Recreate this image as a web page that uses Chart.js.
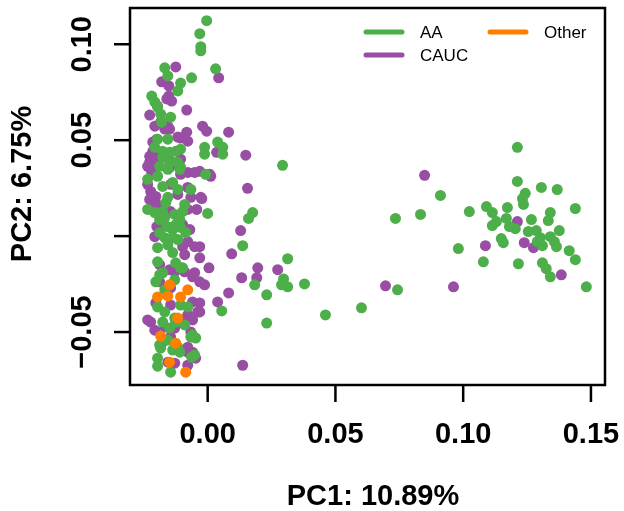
<!DOCTYPE html>
<html>
<head>
<meta charset="utf-8">
<script src="https://cdn.jsdelivr.net/npm/chart.js@4.4.1/dist/chart.umd.min.js"></script>
<style>
  html, body { margin: 0; padding: 0; background: #fff; }
  canvas { display: block; }
</style>
</head>
<body>
<canvas id="pca" width="624" height="511"></canvas>
<script>
// axis ticks and titles
const xTicks = [0, 0.05, 0.10, 0.15];
const xTickLabels = ['0.00', '0.05', '0.10', '0.15'];
const yTicks = [-0.05, 0, 0.05, 0.10];
const yTickLabels = ['\u22120.05', '', '0.05', '0.10'];   // R dropped the 0.00 label
const xTitle = 'PC1: 10.89%';
const yTitle = 'PC2: 6.75%';

const groupNames = ['AA', 'CAUC', 'Other'];
const groupColors = ['#4DAF4A', '#984EA3', '#FF7F00'];

// PC1, PC2 per sample
const aaPoints = [
  [-0.0004, 0.1123], [-0.0031, 0.1055], [-0.0027, 0.0987], [-0.0027, 0.0966], [-0.0168, 0.0877],
  [-0.0156, 0.0835], [0.0031, 0.0872], [-0.0063, 0.0825], [-0.0106, 0.0798], [-0.0117, 0.0757],
  [-0.0219, 0.0730], [-0.0207, 0.0699], [-0.0196, 0.0673], [-0.0184, 0.0636], [-0.0145, 0.0620],
  [-0.0180, 0.0594], [0.0039, 0.0490], [0.0059, 0.0463], [-0.0012, 0.0463], [0.0059, 0.0427],
  [-0.0012, 0.0427], [-0.0156, 0.0505], [-0.0196, 0.0505], [-0.0207, 0.0463], [-0.0176, 0.0442],
  [-0.0149, 0.0437], [-0.0125, 0.0442], [-0.0106, 0.0453], [-0.0117, 0.0385], [-0.0176, 0.0411],
  [-0.0188, 0.0364], [-0.0149, 0.0385], [-0.0109, 0.0348], [-0.0008, 0.0322], [-0.0235, 0.0296],
  [-0.0196, 0.0312], [-0.0156, 0.0348], [-0.0106, 0.0359], [-0.0176, 0.0259], [-0.0117, 0.0243],
  [-0.0066, 0.0243], [-0.0137, 0.0280], [-0.0156, 0.0202], [-0.0164, 0.0175], [-0.0176, 0.0128],
  [-0.0235, 0.0139], [-0.0168, 0.0097], [-0.0129, 0.0113], [-0.0098, 0.0128], [-0.0090, 0.0165],
  [0.0000, 0.0118], [-0.0207, 0.0123], [-0.0109, 0.0086], [-0.0188, 0.0086], [-0.0160, 0.0050],
  [-0.0188, 0.0018], [-0.0137, 0.0034], [-0.0168, -0.0008], [-0.0137, -0.0008], [-0.0086, 0.0018],
  [-0.0117, -0.0018], [-0.0156, -0.0045], [-0.0196, -0.0060], [-0.0137, -0.0086], [-0.0196, -0.0134],
  [-0.0125, -0.0139], [-0.0098, -0.0165], [-0.0176, -0.0191], [-0.0188, -0.0202], [-0.0106, -0.0165],
  [-0.0129, -0.0228], [-0.0203, -0.0238], [-0.0168, -0.0280], [-0.0196, -0.0369], [-0.0168, -0.0395],
  [-0.0106, -0.0359], [-0.0078, -0.0369], [-0.0129, -0.0427], [-0.0176, -0.0448], [-0.0090, -0.0463],
  [-0.0149, -0.0479], [-0.0059, -0.0516], [-0.0188, -0.0568], [-0.0137, -0.0594], [-0.0109, -0.0605],
  [-0.0196, -0.0636], [-0.0145, -0.0709], [-0.0196, -0.0678], [-0.0063, -0.0631], [-0.0047, -0.0531],
  [-0.0156, -0.0542], [-0.0145, 0.0045], [-0.0125, 0.0060], [-0.0106, 0.0045], [-0.0184, -0.0584],
  [-0.0117, -0.0579], [-0.0051, -0.0620], [-0.0066, -0.0526], [-0.0125, -0.0448],
  [0.0293, 0.0369], [0.0176, 0.0123], [0.0160, 0.0092], [0.0137, -0.0050], [0.0313, -0.0118],
  [0.0297, -0.0223], [0.0184, -0.0254], [0.0289, -0.0254], [0.0313, -0.0264], [0.0379, -0.0249],
  [0.0231, -0.0306], [0.0055, -0.0390], [0.0461, -0.0411], [0.0602, -0.0374], [0.0231, -0.0453],
  [0.0743, -0.0280],
  [0.1212, 0.0463], [0.1212, 0.0285], [0.1306, 0.0254], [0.1368, 0.0243], [0.0911, 0.0212],
  [0.1243, 0.0223], [0.1232, 0.0196], [0.1236, 0.0165], [0.1091, 0.0154], [0.1024, 0.0128],
  [0.1173, 0.0149], [0.1114, 0.0123], [0.1439, 0.0144], [0.1341, 0.0123], [0.0833, 0.0113],
  [0.0735, 0.0092], [0.1169, 0.0092], [0.1267, 0.0086], [0.1333, 0.0081], [0.1130, 0.0076],
  [0.1114, 0.0055], [0.1181, 0.0050], [0.1204, 0.0039], [0.1255, 0.0024], [0.1286, 0.0029],
  [0.1376, 0.0029], [0.1341, -0.0003], [0.1302, -0.0008], [0.1290, -0.0029], [0.1149, -0.0013],
  [0.1157, -0.0034], [0.1310, -0.0050], [0.1365, -0.0055], [0.1357, -0.0029], [0.0981, -0.0065],
  [0.1415, -0.0076], [0.1439, -0.0123], [0.1079, -0.0134], [0.1216, -0.0144], [0.1310, -0.0139],
  [0.1325, -0.0170], [0.1341, -0.0212], [0.1482, -0.0264]
];

const caucPoints = [
  [-0.0125, 0.0882], [0.0043, 0.0825], [-0.0180, 0.0804], [-0.0152, 0.0783], [-0.0152, 0.0730],
  [-0.0160, 0.0715], [-0.0141, 0.0704], [-0.0196, 0.0678], [-0.0082, 0.0657], [-0.0227, 0.0631],
  [-0.0184, 0.0594], [-0.0207, 0.0573], [-0.0156, 0.0573], [-0.0149, 0.0558], [-0.0082, 0.0542],
  [-0.0020, 0.0573], [-0.0004, 0.0547], [0.0082, 0.0542], [-0.0106, 0.0511], [-0.0078, 0.0495],
  [-0.0215, 0.0490], [0.0035, 0.0437], [0.0149, 0.0422], [-0.0227, 0.0416], [-0.0196, 0.0401],
  [-0.0145, 0.0390], [-0.0106, 0.0401], [-0.0235, 0.0364], [-0.0203, 0.0359], [-0.0149, 0.0359],
  [-0.0219, 0.0332], [-0.0078, 0.0332], [-0.0051, 0.0332], [-0.0031, 0.0338], [0.0008, 0.0322],
  [0.0012, 0.0312], [-0.0106, 0.0322], [-0.0223, 0.0233], [-0.0203, 0.0207], [-0.0145, 0.0270],
  [-0.0078, 0.0254], [-0.0066, 0.0202], [-0.0027, 0.0202], [-0.0117, 0.0217], [0.0156, 0.0249],
  [-0.0023, 0.0196], [-0.0215, 0.0154], [-0.0199, 0.0165], [-0.0078, 0.0139], [-0.0043, 0.0139],
  [-0.0145, 0.0128], [-0.0098, 0.0060], [-0.0070, 0.0034], [-0.0199, 0.0050], [-0.0207, -0.0003],
  [0.0129, 0.0029], [-0.0051, -0.0055], [-0.0098, -0.0055], [-0.0078, -0.0029], [-0.0031, -0.0055],
  [0.0094, -0.0092], [-0.0031, -0.0113], [-0.0090, -0.0097], [-0.0188, -0.0149], [-0.0149, -0.0175],
  [-0.0090, -0.0186], [-0.0051, -0.0191], [0.0005, -0.0165], [0.0196, -0.0165], [0.0274, -0.0175],
  [0.0192, -0.0217], [0.0133, -0.0217], [-0.0188, -0.0238], [-0.0129, -0.0186], [-0.0059, -0.0212],
  [-0.0031, -0.0238], [-0.0012, -0.0254], [0.0082, -0.0296], [0.0039, -0.0343], [-0.0031, -0.0348],
  [-0.0031, -0.0395], [0.0696, -0.0259], [0.0849, 0.0317], [0.1212, 0.0076], [0.1239, -0.0034],
  [0.1275, -0.0060], [0.1087, -0.0050], [0.0962, -0.0264], [0.1384, -0.0202],
  [-0.0117, 0.0516], [-0.0168, 0.0558], [-0.0199, 0.0505], [-0.0215, 0.0442], [-0.0180, 0.0416],
  [-0.0227, 0.0385], [-0.0235, 0.0270], [-0.0227, 0.0191],
  [-0.0203, -0.0348], [-0.0145, -0.0359], [-0.0059, -0.0343], [-0.0039, -0.0395], [-0.0078, -0.0411],
  [-0.0223, -0.0448], [-0.0207, -0.0490], [-0.0168, -0.0474], [-0.0129, -0.0479], [-0.0098, -0.0437],
  [-0.0059, -0.0437], [-0.0066, -0.0500], [-0.0078, -0.0579], [-0.0078, -0.0605], [-0.0078, -0.0673],
  [-0.0156, -0.0657], [-0.0129, -0.0662], [-0.0047, -0.0636], [-0.0059, -0.0605], [-0.0176, -0.0552],
  [-0.0145, -0.0526], [0.0137, -0.0673], [-0.0145, -0.0270], [-0.0235, -0.0437]
];

const otherPoints = [
  [-0.0149, -0.0254], [-0.0196, -0.0317], [-0.0156, -0.0312], [-0.0106, -0.0317], [-0.0078, -0.0280],
  [-0.0117, -0.0427], [-0.0184, -0.0521], [-0.0149, -0.0657], [-0.0125, -0.0558], [-0.0086, -0.0709]
];

const FONT = '"Liberation Sans", Arial, sans-serif';

// box, ticks, rotated y labels, titles and the line legend, drawn like R's base plot
const basePlot = {
  id: 'basePlot',
  afterDraw(chart) {
    const { ctx, chartArea: a, scales: { x, y } } = chart;
    ctx.save();
    ctx.strokeStyle = '#000';
    ctx.fillStyle = '#000';
    ctx.lineWidth = 2.5;
    ctx.strokeRect(a.left, a.top, a.right - a.left, a.bottom - a.top);

    ctx.font = 'bold 29px ' + FONT;
    ctx.textAlign = 'center';
    ctx.textBaseline = 'alphabetic';
    xTicks.forEach((v, i) => {
      const px = x.getPixelForValue(v);
      ctx.beginPath();
      ctx.moveTo(px, a.bottom);
      ctx.lineTo(px, a.bottom + 17);
      ctx.stroke();
      ctx.fillText(xTickLabels[i], px, 443);
    });
    yTicks.forEach((v, i) => {
      const py = y.getPixelForValue(v);
      ctx.beginPath();
      ctx.moveTo(a.left, py);
      ctx.lineTo(a.left - 16, py);
      ctx.stroke();
      ctx.save();
      ctx.translate(91, py);
      ctx.rotate(-Math.PI / 2);
      ctx.fillText(yTickLabels[i], 0, 0);
      ctx.restore();
    });

    ctx.fillText(xTitle, 373, 505);
    ctx.save();
    ctx.translate(31, 184);
    ctx.rotate(-Math.PI / 2);
    ctx.fillText(yTitle, 0, 0);
    ctx.restore();

    // legend: two columns, AA / CAUC on the left, Other on the right
    const slots = [[366, 32], [366, 55], [490, 32]];
    ctx.font = '17px ' + FONT;
    ctx.textAlign = 'left';
    ctx.lineWidth = 5;
    ctx.lineCap = 'round';
    groupNames.forEach((name, i) => {
      const [lx, ly] = slots[i];
      ctx.strokeStyle = groupColors[i];
      ctx.beginPath();
      ctx.moveTo(lx, ly);
      ctx.lineTo(lx + 36, ly);
      ctx.stroke();
      ctx.fillText(name, lx + 54, ly + 6);
    });
    ctx.restore();
  }
};

const toXY = pts => pts.map(([px, py]) => ({ x: px, y: py }));

new Chart(document.getElementById('pca'), {
  type: 'scatter',
  data: {
    datasets: [
      { label: groupNames[2], data: toXY(otherPoints), backgroundColor: groupColors[2], order: 0 },
      { label: groupNames[0], data: toXY(aaPoints), backgroundColor: groupColors[0], order: 1 },
      { label: groupNames[1], data: toXY(caucPoints), backgroundColor: groupColors[1], order: 2 }
    ]
  },
  options: {
    responsive: false,
    animation: false,
    devicePixelRatio: 1,
    layout: { padding: { left: 130, right: 19, top: 8, bottom: 126 } },
    elements: { point: { radius: 5.5, borderWidth: 0, hoverRadius: 5.5 } },
    plugins: { legend: { display: false }, tooltip: { enabled: false } },
    scales: {
      x: { type: 'linear', min: -0.0304, max: 0.1555, display: false },
      y: { type: 'linear', min: -0.0776, max: 0.1189, display: false }
    }
  },
  plugins: [basePlot]
});
</script>
</body>
</html>
